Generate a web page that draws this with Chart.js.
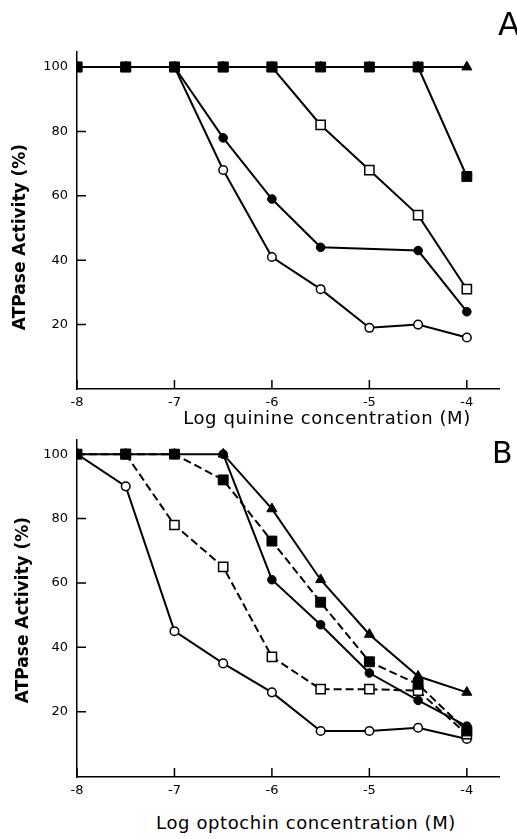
<!DOCTYPE html>
<html>
<head>
<meta charset="utf-8">
<script src="https://cdn.jsdelivr.net/npm/chart.js@4"></script>
<style>
  body { margin: 0; background: #fff; }
  #wrap { position: relative; width: 517px; height: 839px; overflow: hidden; font-family: "DejaVu Sans", sans-serif; color: #000; }
  canvas { position: absolute; left: 0; }
  .lbl { position: absolute; white-space: nowrap; }
  .ytitle { font-weight: bold; font-size: 17px; transform: translate(-50%, -50%) rotate(-90deg); }
  .xtitle { font-size: 18px; letter-spacing: 0.6px; transform: translate(-50%, -50%); }
  .panel { font-size: 32px; }
</style>
</head>
<body>
<div id="wrap">
  <canvas id="chartA" width="517" height="420" style="top:0"></canvas>
  <canvas id="chartB" width="517" height="380" style="top:420px"></canvas>
  <div class="lbl panel" style="left:498px; top:5px;">A</div>
  <div class="lbl panel" style="left:492px; top:435px; font-size:30px;">B</div>
  <div class="lbl ytitle" style="left:19px; top:237px;">ATPase Activity (%)</div>
  <div class="lbl ytitle" style="left:22px; top:610px;">ATPase Activity (%)</div>
  <div class="lbl xtitle" style="left:327px; top:417px;">Log quinine concentration (M)</div>
  <div class="lbl xtitle" style="left:306px; top:822px;">Log optochin concentration (M)</div>
</div>
<script>
// log concentration (M)
const logConc = [-8, -7.5, -7, -6.5, -6, -5.5, -5, -4.5, -4];
const xTicks = [-8, -7, -6, -5, -4];
const yTicks = [20, 40, 60, 80, 100];

// panel A: quinine
const aTriangle     = [100, 100, 100, 100, 100, 100, 100, 100, 100];
const aFilledSquare = [100, 100, 100, 100, 100, 100, 100, 100, 66];
const aOpenSquare   = [100, 100, 100, 100, 100, 82, 68, 54, 31];
const aFilledCircle = [100, 100, 100, 78, 59, 44, null, 43, 24];
const aOpenCircle   = [100, 100, 100, 68, 41, 31, 19, 20, 16];

// panel B: optochin
const bTriangle     = [100, 100, 100, 100, 83, 61, 44, 31, 26];
const bFilledSquare = [100, 100, 100, 92, 73, 54, 35.5, 28.5, 14];
const bFilledCircle = [null, null, null, 100, 61, 47, 32, 23.5, 15.5];
const bOpenSquare   = [null, 100, 78, 65, 37, 27, 27, 26.5, 13];
const bOpenCircle   = [100, 90, 45, 35, 26, 14, 14, 15, 11.5];

const pts = arr => logConc.map((x, i) => ({ x: x, y: arr[i] }));

// marker styles
const styles = {
  filledSquare: { pointStyle: 'rect', pointRadius: 7, pointBackgroundColor: '#000' },
  openSquare:   { pointStyle: 'rect', pointRadius: 6.5, pointBackgroundColor: '#fff', pointBorderWidth: 1.5 },
  filledCircle: { pointStyle: 'circle', pointRadius: 4.3, pointBackgroundColor: '#000' },
  openCircle:   { pointStyle: 'circle', pointRadius: 4.3, pointBackgroundColor: '#fff', pointBorderWidth: 1.5 },
  triangle:     { pointStyle: 'triangle', pointRadius: 5.8, pointBackgroundColor: '#000' }
};

function ds(arr, style, dashed) {
  return Object.assign({
    data: pts(arr),
    borderColor: '#000',
    borderWidth: 2,
    borderDash: dashed ? [8, 4] : [],
    pointBorderColor: '#000',
    pointBorderWidth: 1,
    pointHoverRadius: 0,
    spanGaps: true,
    fill: false,
    tension: 0
  }, styles[style]);
}

// tick marks pointing into the plot
const innerTicks = {
  id: 'innerTicks',
  beforeDatasetsDraw(chart) {
    const { ctx, chartArea } = chart;
    const x = chart.scales.x, y = chart.scales.y;
    ctx.save();
    ctx.strokeStyle = '#000';
    ctx.lineWidth = 1.5;
    ctx.beginPath();
    x.ticks.forEach(t => {
      const px = x.getPixelForValue(t.value);
      ctx.moveTo(px, chartArea.bottom);
      ctx.lineTo(px, chartArea.bottom - 9);
    });
    y.ticks.forEach(t => {
      const py = y.getPixelForValue(t.value);
      ctx.moveTo(chartArea.left, py);
      ctx.lineTo(chartArea.left + 9, py);
    });
    ctx.stroke();
    ctx.restore();
  }
};

function makeChart(id, datasets, padTop, xHeight, yMin, yMax) {
  return new Chart(document.getElementById(id), {
    type: 'line',
    data: { datasets: datasets },
    plugins: [innerTicks],
    options: {
      responsive: false,
      animation: false,
      events: [],
      layout: { padding: { left: 0, right: 18, top: padTop, bottom: 0 } },
      plugins: { legend: { display: false }, tooltip: { enabled: false } },
      scales: {
        x: {
          type: 'linear',
          min: -8, max: -3.67,
          afterBuildTicks: s => { s.ticks = xTicks.map(v => ({ value: v })); },
          afterFit: s => { s.height = xHeight; },
          grid: { display: false, drawTicks: false },
          border: { display: true, color: '#000', width: 1.5 },
          ticks: { color: '#000', padding: 6, font: { family: 'DejaVu Sans', size: 13 }, maxRotation: 0 }
        },
        y: {
          min: yMin, max: yMax,
          afterBuildTicks: s => { s.ticks = yTicks.map(v => ({ value: v })); },
          afterFit: s => { s.width = 77; },
          grid: { display: false, drawTicks: false },
          border: { display: true, color: '#000', width: 1.5 },
          ticks: { color: '#000', padding: 9, font: { family: 'DejaVu Sans', size: 13 } }
        }
      }
    }
  });
}

makeChart('chartA', [
  ds(aFilledSquare, 'filledSquare'),
  ds(aTriangle, 'triangle'),
  ds(aOpenSquare, 'openSquare'),
  ds(aFilledCircle, 'filledCircle'),
  ds(aOpenCircle, 'openCircle')
], 52, 31, 0, 104.66);

makeChart('chartB', [
  ds(bFilledSquare, 'filledSquare', true),
  ds(bTriangle, 'triangle'),
  ds(bFilledCircle, 'filledCircle'),
  ds(bOpenSquare, 'openSquare', true),
  ds(bOpenCircle, 'openCircle')
], 20, 23, -0.3, 104.4);
</script>
</body>
</html>
